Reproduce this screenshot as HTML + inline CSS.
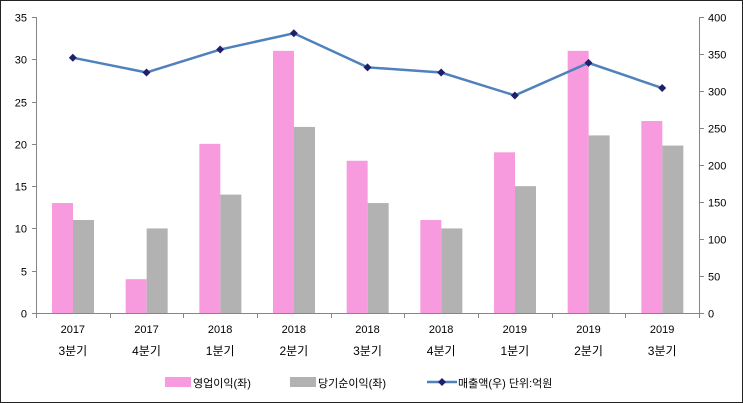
<!DOCTYPE html>
<html><head><meta charset="utf-8"><style>
html,body{margin:0;padding:0;background:#fff}
svg{display:block}
text{font-family:"Liberation Sans","Noto Sans CJK KR",sans-serif;font-size:11px;fill:#000}
.q{font-size:12px}
</style></head><body>
<svg width="743" height="403" viewBox="0 0 743 403" xmlns="http://www.w3.org/2000/svg">
<rect x="0.5" y="0.5" width="742" height="402" fill="#fff" stroke="#222"/>
<g id="bars"></g>
<g stroke="#868686" stroke-width="1" fill="none">
<line x1="36.5" y1="17" x2="36.5" y2="313"/>
<line x1="699.5" y1="17" x2="699.5" y2="313"/>
<line x1="36" y1="313.5" x2="700" y2="313.5"/>
</g>
<g id="ticks" stroke="#868686"></g>
<g id="labels"></g>
<!-- legend -->
<rect x="165" y="377" width="26" height="10" fill="#F79BDE"/>
<text x="193" y="387">영업이익(좌)</text>
<rect x="290" y="377" width="26" height="10" fill="#B2B2B2"/>
<text x="318" y="387">당기순이익(좌)</text>
<line x1="427" y1="382" x2="457" y2="382" stroke="#4F81BD" stroke-width="2.5"/>
<path d="M442 378 L446 382 L442 386 L438 382Z" fill="#1F1F6E"/>
<text x="458" y="387">매출액(우)  단위:억원</text>
<script>
var ns="http://www.w3.org/2000/svg";
function el(p,t,a,tx){var e=document.createElementNS(ns,t);for(var k in a)e.setAttribute(k,a[k]);if(tx!==undefined)e.textContent=tx;document.getElementById(p).appendChild(e);return e;}
var pink=[13,4,20,31,18,11,19,31,22.7],gray=[11,10,14,22,13,10,15,21,19.8],line=[345,325,356,378,332,325,294,338,304];
var yr=["2017","2017","2018","2018","2018","2018","2019","2019","2019"],q=["3분기","4분기","1분기","2분기","3분기","4분기","1분기","2분기","3분기"];
var cw=663/9;function yl(v){return 313-v*296/35}function yrr(v){return 313-v*296/400}
for(var i=0;i<9;i++){var L=36+cw*i;
el("bars","rect",{x:L+16,y:yl(pink[i]),width:21,height:313-yl(pink[i]),fill:"#F79BDE"});
el("bars","rect",{x:L+37,y:yl(gray[i]),width:21,height:313-yl(gray[i]),fill:"#B2B2B2"});
var c=L+cw/2;
el("labels","text",{x:c,y:333,"text-anchor":"middle"},yr[i]);
el("labels","text",{x:c,y:355,"text-anchor":"middle","class":"q"},q[i]);
}
for(var i=0;i<=9;i++){var x=Math.round(36+cw*i)+0.5;el("ticks","line",{x1:x,x2:x,y1:313,y2:318});}
for(var v=0;v<=35;v+=5){var y=Math.round(yl(v))+0.5;el("ticks","line",{x1:32,x2:36,y1:y,y2:y});el("labels","text",{x:27,y:y+4,"text-anchor":"end"},v);}
for(var v=0;v<=400;v+=50){var y=Math.round(yrr(v))+0.5;el("ticks","line",{x1:699,x2:704,y1:y,y2:y});el("labels","text",{x:708,y:y+4},v);}
var pts=line.map(function(v,i){return (36+cw*i+cw/2)+","+yrr(v)}).join(" ");
el("labels","polyline",{points:pts,fill:"none",stroke:"#4F81BD","stroke-width":2.5});
line.forEach(function(v,i){var x=36+cw*i+cw/2,y=yrr(v);el("labels","path",{d:"M"+x+" "+(y-4)+"L"+(x+4)+" "+y+"L"+x+" "+(y+4)+"L"+(x-4)+" "+y+"Z",fill:"#1F1F6E"});});
</script>
</svg>
</body></html>
